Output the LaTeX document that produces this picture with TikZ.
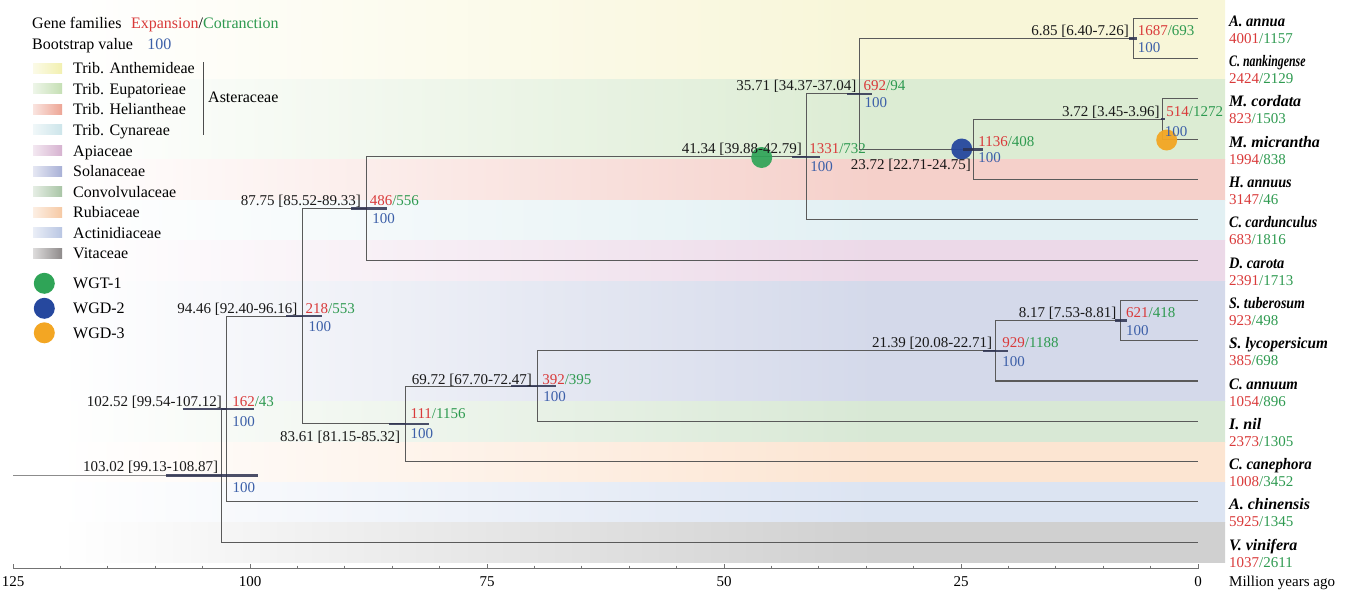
\documentclass[tikz,border=0pt]{standalone}
\usepackage{fontspec}
\setmainfont{Liberation Serif}
\usetikzlibrary{calc}
\definecolor{bAnth}{HTML}{F8F6D8}
\definecolor{bEup}{HTML}{DCECD3}
\definecolor{bHel}{HTML}{F5D0CA}
\definecolor{bCyn}{HTML}{E2F0F3}
\definecolor{bApi}{HTML}{ECD9E8}
\definecolor{bSol}{HTML}{D4D9EA}
\definecolor{bCon}{HTML}{D8E8D5}
\definecolor{bRub}{HTML}{FCE5D2}
\definecolor{bAct}{HTML}{DCE4F2}
\definecolor{bVit}{HTML}{D0D0D0}
\definecolor{sAnth}{HTML}{F2F0B0}
\definecolor{sEup}{HTML}{C5DFB4}
\definecolor{sHel}{HTML}{EDA595}
\definecolor{sCyn}{HTML}{CDE5EA}
\definecolor{sApi}{HTML}{D6B2D0}
\definecolor{sSol}{HTML}{A8B0D6}
\definecolor{sCon}{HTML}{A9C5A6}
\definecolor{sRub}{HTML}{F6C9A4}
\definecolor{sAct}{HTML}{B9C6E3}
\definecolor{sVit}{HTML}{8E8A8A}
\definecolor{expred}{HTML}{D93A3A}
\definecolor{congreen}{HTML}{2E9A50}
\definecolor{bootblue}{HTML}{3C5FA8}
\definecolor{treegray}{HTML}{5A5A5A}
\definecolor{barcol}{HTML}{2D3250}
\definecolor{wgtgreen}{HTML}{2FA457}
\definecolor{wgdblue}{HTML}{26489E}
\definecolor{wgdorange}{HTML}{F3A623}
\colorlet{bandc}{bAnth}
\pgfdeclarehorizontalshading[bandc]{bandsh}{100bp}{color(0bp)=(white); color(25bp)=(white); color(60bp)=(bandc); color(100bp)=(bandc)}
\newcommand\ec[2]{\textcolor{expred}{#1}\textcolor{congreen}{/#2}}
\begin{document}
\begin{tikzpicture}[x=1pt,y=-1pt,
  branch/.style={draw=treegray, line width=1.1pt},
  hpd/.style={draw=barcol, line width=2.6pt, opacity=0.85},
  lab/.style={font=\fontsize{15}{15}\selectfont, inner sep=0pt},
  datelab/.style={lab, anchor=base east, text=black!90},
  cnt/.style={lab, anchor=base west},
  boot/.style={lab, anchor=base west, text=bootblue},
  spname/.style={font=\fontsize{16}{16}\selectfont\bfseries\itshape, anchor=base west, inner sep=0pt},
  legtxt/.style={font=\fontsize{16}{16}\selectfont, anchor=base west, inner sep=0pt},
  wgd/.style={circle, minimum size=21pt, inner sep=0pt},
  axlab/.style={lab, anchor=base}]
\useasboundingbox (0,0) rectangle (1351,589);
% background bands
\foreach \ya/\yb/\c in {0/79/bAnth, 79/159/bEup, 159/200/bHel, 200/240/bCyn, 240/281/bApi, 281/401.5/bSol, 401.5/442/bCon, 442/482/bRub, 482/522/bAct, 522/562/bVit}{
  \colorlet{bandc}{\c}
  \shade[shading=bandsh] (60,\ya) rectangle (1225,\yb);
}
% leaves
\coordinate (L0) at (1198,18.3);
\coordinate (L1) at (1198,58.6);
\coordinate (L2) at (1198,98.9);
\coordinate (L3) at (1198,139.2);
\coordinate (L4) at (1198,179.5);
\coordinate (L5) at (1198,219.8);
\coordinate (L6) at (1198,260.1);
\coordinate (L7) at (1198,300.4);
\coordinate (L8) at (1198,340.7);
\coordinate (L9) at (1198,381.0);
\coordinate (L10) at (1198,421.3);
\coordinate (L11) at (1198,461.6);
\coordinate (L12) at (1198,501.9);
\coordinate (L13) at (1198,542.2);
% internal nodes
\coordinate (n3) at (1162.7,119.05);
\coordinate (n23) at (973.1,149.3);
\coordinate (n6) at (1133.1,38.45);
\coordinate (n35) at (859.5,93.9);
\coordinate (n41) at (806.1,156.85);
\coordinate (n87) at (366.1,208.5);
\coordinate (n8) at (1120.5,320.55);
\coordinate (n21) at (995.2,350.8);
\coordinate (n69) at (537.1,386.05);
\coordinate (n83) at (405.4,423.8);
\coordinate (n94) at (302.5,316.15);
\coordinate (n102) at (226.1,409.0);
\coordinate (root) at (221.4,475.6);
\coordinate (stem) at (13,475.6);
% branches
\draw[branch] (n6) |- (L0); \draw[branch] (n6) |- (L1);
\draw[branch] (n3) |- (L2); \draw[branch] (n3) |- (L3);
\draw[branch] (n23) |- (n3); \draw[branch] (n23) |- (L4);
\draw[branch] (n35) |- (n6); \draw[branch] (n35) |- (n23);
\draw[branch] (n41) |- (n35); \draw[branch] (n41) |- (L5);
\draw[branch] (n87) |- (n41); \draw[branch] (n87) |- (L6);
\draw[branch] (n8) |- (L7); \draw[branch] (n8) |- (L8);
\draw[branch] (n21) |- (n8); \draw[branch] (n21) |- (L9);
\draw[branch] (n69) |- (n21); \draw[branch] (n69) |- (L10);
\draw[branch] (n83) |- (n69); \draw[branch] (n83) |- (L11);
\draw[branch] (n94) |- (n87); \draw[branch] (n94) |- (n83);
\draw[branch] (n102) |- (n94); \draw[branch] (n102) |- (L12);
\draw[branch] (root) |- (n102); \draw[branch] (root) |- (L13);
\draw[branch, draw=black!45] (stem) -- (root);
% WGD events
\node[wgd, fill=wgtgreen, opacity=0.92] (ev1) at (761.7,157.5) {};
\node[wgd, fill=wgdblue, opacity=0.95] (ev2) at (961.7,149) {};
\node[wgd, fill=wgdorange, opacity=0.95] (ev3) at (1166.7,140) {};
% HPD bars
\draw[hpd] (165.9,475.6) -- (258.2,475.6);
\draw[hpd] (182.5,409.0) -- (254.4,409.0);
\draw[hpd] (286.4,316.15) -- (322.0,316.15);
\draw[hpd] (351.2,208.5) -- (387.3,208.5);
\draw[hpd] (792.4,156.85) -- (819.9,156.85);
\draw[hpd] (846.9,93.9) -- (872.2,93.9);
\draw[hpd] (1129.2,38.45) -- (1137.3,38.45);
\draw[hpd] (963.4,149.3) -- (982.7,149.3);
\draw[hpd] (1160.5,119.05) -- (1165.3,119.05);
\draw[hpd] (389.2,423.8) -- (428.7,423.8);
\draw[hpd] (511.0,386.05) -- (556.2,386.05);
\draw[hpd] (982.7,350.8) -- (1007.6,350.8);
\draw[hpd] (1114.5,320.55) -- (1126.6,320.55);
% node labels
\node[datelab] (d6) at ($(n6)+(-4,-3)$) {6.85 [6.40-7.26]};
\node[cnt] (c6) at ($(n6)+(4.5,-3)$) {\ec{1687}{693}};
\node[boot] (b6) at ($(n6)+(4.5,14)$) {100};
\node[datelab] (d35) at ($(n35)+(-3,-3)$) {35.71 [34.37-37.04]};
\node[cnt] (c35) at ($(n35)+(4,-3)$) {\ec{692}{94}};
\node[boot] (b35) at ($(n35)+(5,14)$) {100};
\node[datelab] (d41) at ($(n41)+(-4,-3)$) {41.34 [39.88-42.79]};
\node[cnt] (c41) at ($(n41)+(3,-3)$) {\ec{1331}{732}};
\node[boot] (b41) at ($(n41)+(4,15)$) {100};
\node[datelab] (d23) at ($(n23)+(-2,20)$) {23.72 [22.71-24.75]};
\node[cnt] (c23) at ($(n23)+(5,-3)$) {\ec{1136}{408}};
\node[boot] (b23) at ($(n23)+(5,13)$) {100};
\node[datelab] (d3) at ($(n3)+(-3,-3)$) {3.72 [3.45-3.96]};
\node[cnt] (c3) at ($(n3)+(3.5,-3)$) {\ec{514}{1272}};
\node[boot] (b3) at ($(n3)+(2,17)$) {100};
\node[datelab] (d87) at ($(n87)+(-5,-3)$) {87.75 [85.52-89.33]};
\node[cnt] (c87) at ($(n87)+(3.5,-3)$) {\ec{486}{556}};
\node[boot] (b87) at ($(n87)+(6,15)$) {100};
\node[datelab] (d94) at ($(n94)+(-5,-3)$) {94.46 [92.40-96.16]};
\node[cnt] (c94) at ($(n94)+(3,-3)$) {\ec{218}{553}};
\node[boot] (b94) at ($(n94)+(6,15)$) {100};
\node[datelab] (d102) at ($(n102)+(-4,-3)$) {102.52 [99.54-107.12]};
\node[cnt] (c102) at ($(n102)+(6,-3)$) {\ec{162}{43}};
\node[boot] (b102) at ($(n102)+(6,17)$) {100};
\node[datelab] (droot) at ($(root)+(-3,-4)$) {103.02 [99.13-108.87]};
\node[boot] (broot) at ($(root)+(11,17)$) {100};
\node[datelab] (d83) at ($(n83)+(-5,18)$) {83.61 [81.15-85.32]};
\node[cnt] (c83) at ($(n83)+(5,-5)$) {\ec{111}{1156}};
\node[boot] (b83) at ($(n83)+(5,15)$) {100};
\node[datelab] (d69) at ($(n69)+(-5,-2)$) {69.72 [67.70-72.47]};
\node[cnt] (c69) at ($(n69)+(5,-2)$) {\ec{392}{395}};
\node[boot] (b69) at ($(n69)+(6,15)$) {100};
\node[datelab] (d21) at ($(n21)+(-3,-3)$) {21.39 [20.08-22.71]};
\node[cnt] (c21) at ($(n21)+(7,-3)$) {\ec{929}{1188}};
\node[boot] (b21) at ($(n21)+(7,16)$) {100};
\node[datelab] (d8) at ($(n8)+(-4,-3)$) {8.17 [7.53-8.81]};
\node[cnt] (c8) at ($(n8)+(5.5,-3)$) {\ec{621}{418}};
\node[boot] (b8) at ($(n8)+(5.5,15)$) {100};
% species labels
\foreach \i/\nm/\sc/\e/\c in {0/A. annua/0.91/4001/1157, 1/C. nankingense/0.74/2424/2129, 2/M. cordata/1.0/823/1503, 3/M. micrantha/1.0/1994/838, 4/H. annuus/0.89/3147/46, 5/C. cardunculus/0.87/683/1816, 6/D. carota/0.9/2391/1713, 7/S. tuberosum/0.87/923/498, 8/S. lycopersicum/0.95/385/698, 9/C. annuum/0.92/1054/896, 10/I. nil/1.0/2373/1305, 11/C. canephora/0.93/1008/3452, 12/A. chinensis/1.0/5925/1345, 13/V. vinifera/1.0/1037/2611}{
  \node[spname] (sp\i) at ($(L\i)+(31,8)$) {\scalebox{\sc}[1]{\nm}};
  \node[cnt] (ct\i) at ($(L\i)+(31,25)$) {\ec{\e}{\c}};
}
% axis
\coordinate (ax0) at (13,568);
\coordinate (ax1) at (1198,568);
\draw[draw=black!55, line width=0.8pt] (ax0) -- (ax1);
\foreach \t in {0,5,...,125}{
  \pgfmathsetmacro{\xx}{1198-9.48*\t}
  \draw[draw=black!55, line width=0.7pt] (\xx,565.5) -- (\xx,568);
}
\foreach \t in {0,25,50,75,100,125}{
  \pgfmathsetmacro{\xx}{1198-9.48*\t}
  \draw[draw=black!55, line width=0.8pt] (\xx,564) -- (\xx,569);
  \node[axlab] (tk\t) at (\xx,586) {\t};
}
\node[lab, anchor=base west] (mya) at (1229,586) {Million years ago};
% legend
\node[legtxt] (hdr1) at (32,28) {Gene families\hspace{0.6em}\textcolor{expred}{Expansion}/\textcolor{congreen}{Cotranction}};
\node[legtxt] (hdr2) at (32,49) {Bootstrap value\hspace{0.9em}\textcolor{bootblue}{100}};
\foreach \k/\c/\t in {0/sAnth/Trib. Anthemideae, 1/sEup/Trib. Eupatorieae, 2/sHel/Trib. Heliantheae, 3/sCyn/Trib. Cynareae, 4/sApi/Apiaceae, 5/sSol/Solanaceae, 6/sCon/Convolvulaceae, 7/sRub/Rubiaceae, 8/sAct/Actinidiaceae, 9/sVit/Vitaceae}{
  \pgfmathsetmacro{\yy}{68.3+20.55*\k}
  \shade[left color=white!70!\c, right color=\c] (33,\yy-5) rectangle (62,\yy+5);
  \node[legtxt] (lg\k) at (73,\yy+5.5) {\t};
}
\coordinate (brA) at (203,62);
\coordinate (brB) at (203,135);
\draw[draw=black!70, line width=0.8pt] (brA) -- (brB);
\node[legtxt] (astr) at (208,102.5) {Asteraceae};
\node[wgd, fill=wgtgreen] (lw1) at (44.3,283.3) {};
\node[wgd, fill=wgdblue] (lw2) at (44.3,308.3) {};
\node[wgd, fill=wgdorange] (lw3) at (44.3,332.8) {};
\node[legtxt] (lt1) at (73,288.8) {WGT-1};
\node[legtxt] (lt2) at (73,313.8) {WGD-2};
\node[legtxt] (lt3) at (73,338.3) {WGD-3};
\end{tikzpicture}
\end{document}
